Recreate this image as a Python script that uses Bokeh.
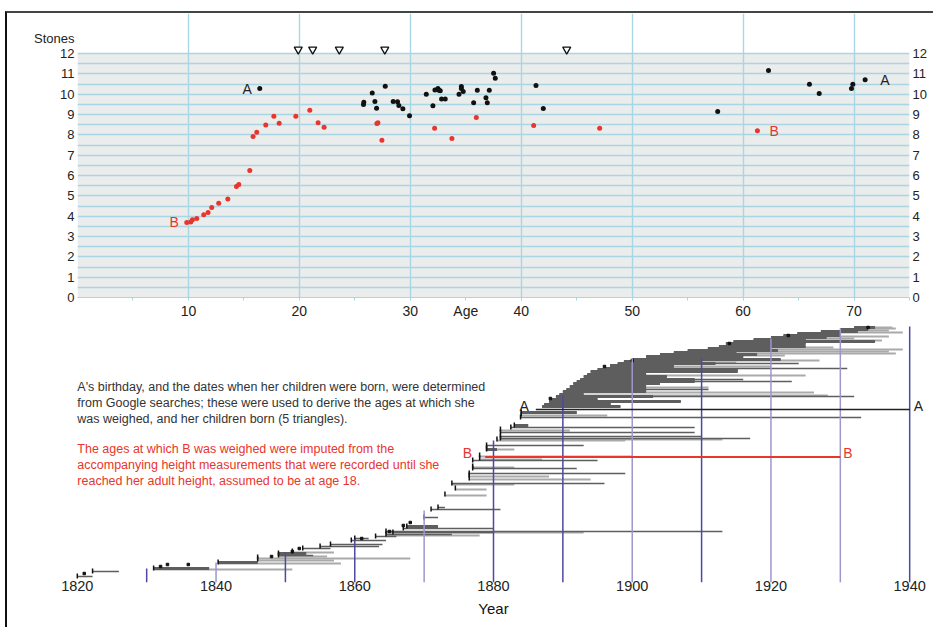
from bokeh.plotting import figure
from bokeh.models import (Range1d, FixedTicker, LinearAxis, Label, ColumnDataSource)
from bokeh.layouts import column
from bokeh.core.properties import value
from bokeh.embed import file_html
from bokeh.resources import INLINE

# ---------------- data: top panel (weight in stones vs age) ----------------
a_age = [16.43, 25.78, 25.81, 26.57, 26.81, 26.96, 27.74, 28.46, 28.85, 28.97, 29.33, 29.93,
         31.44, 32.04, 32.22, 32.49, 32.58, 32.7, 32.82, 33.15, 34.39, 34.6, 34.6, 34.77,
         35.71, 36.04, 36.82, 36.94, 37.12, 37.51, 37.66, 41.33, 41.99, 57.71, 62.29, 65.98,
         66.86, 69.77, 69.89, 71.0]
a_stones = [10.28, 9.49, 9.6, 10.06, 9.64, 9.31, 10.39, 9.64, 9.63, 9.44, 9.28, 8.94,
            10.0, 9.43, 10.21, 10.28, 10.2, 10.17, 9.76, 9.77, 10.0, 10.38, 10.28, 10.13,
            9.58, 10.2, 9.82, 9.58, 10.2, 11.03, 10.79, 10.43, 9.3, 9.15, 11.17, 10.49,
            10.03, 10.28, 10.49, 10.71]
b_age = [9.85, 10.21, 10.36, 10.75, 11.38, 11.77, 12.1, 12.73, 13.55, 14.33, 14.54, 15.53,
         15.83, 16.16, 16.97, 17.7, 18.18, 19.68, 20.94, 21.69, 22.23, 26.99, 27.08, 27.44,
         32.19, 33.75, 35.95, 41.12, 47.07, 61.29]
b_stones = [3.69, 3.72, 3.82, 3.89, 4.07, 4.18, 4.43, 4.64, 4.85, 5.46, 5.56, 6.25,
            7.92, 8.13, 8.49, 8.92, 8.57, 8.92, 9.21, 8.6, 8.38, 8.56, 8.6, 7.74,
            8.33, 7.82, 8.85, 8.46, 8.33, 8.2]
birth_age = [19.9, 21.2, 23.6, 27.7, 44.1]
birth_marker_stones = [12.2] * 5
age_ticks = [10, 20, 30, 40, 50, 60, 70]
age_minor = [5, 15, 25, 45, 55, 65, 75]
age_label_pos = 35          # where the word "Age" sits among the tick labels
stone_ticks = list(range(0, 13))
stone_grid = [i * 0.5 for i in range(0, 25)]
stones_label_pos = 12.72    # where the word "Stones" sits above the left tick labels

# ---------------- data: bottom panel (records by year) ----------------
# level, start year, thick-fill end, thin dark line end, light line end (0 = none)
row_level = [6, 11, 14, 20, 23, 25, 27, 29, 31, 34, 36, 38, 42, 44, 46, 48, 50, 51, 54, 56,
             65, 73, 75, 88, 94, 99, 104, 107, 109, 114, 116, 122, 124, 127, 133, 134, 137,
             143, 144, 146, 150, 153, 155, 157, 165, 168, 170,
             176, 178, 181, 183, 186, 188, 191, 193, 196, 199, 201, 203, 206, 208, 211, 213,
             214, 217, 219, 221, 223, 226, 228, 230, 232, 234, 236, 239, 241, 243, 245, 247,
             249, 251, 253, 255, 256]
row_start = [1820.0, 1822.2, 1831.0, 1840.3, 1846.0, 1846.0, 1849.0, 1849.0, 1851.0, 1852.5,
             1855.0, 1856.5, 1859.5, 1860.0, 1863.0, 1864.5, 1865.5, 1864.5, 1867.0, 1867.5,
             1870.0, 1871.0, 1872.0, 1873.0, 1874.5, 1874.0, 1876.5, 1876.5, 1876.5,
             1877.0, 1877.0, 1877.0, 1878.0, 1878.0, 1879.0, 1879.0, 1879.0,
             1880.5, 1881.0, 1881.0, 1881.0, 1881.0, 1882.5, 1883.0, 1883.9, 1884.0, 1884.0,
             1887.0, 1887.3, 1888.0, 1888.3, 1889.0, 1889.5, 1890.0, 1890.5, 1891.0, 1891.5,
             1892.0, 1892.5, 1893.0, 1893.5, 1894.0, 1895.0, 1895.9, 1896.8, 1897.9, 1898.8,
             1900.0, 1902.0, 1904.0, 1906.0, 1908.0, 1910.9, 1912.5, 1913.5, 1914.6, 1917.5,
             1920.0, 1921.8, 1923.8, 1927.2, 1930.0, 1932.0, 1934.1]
row_fill_end = [0, 0, 1839.0, 1846.0, 0, 0, 0, 1853.0, 0, 0,
                0, 0, 0, 0, 0, 0, 0, 0, 0, 1872.0,
                0, 0, 0, 0, 0, 0, 0, 0, 0,
                0, 0, 0, 0, 0, 1880.5, 0, 0,
                0, 0, 0, 0, 0, 0, 1885.0, 0, 0, 1892.0,
                1898.3, 1896.9, 1907.0, 1895.0, 1903.0, 1893.0, 1902.0, 1902.0, 1902.0, 1904.0,
                1909.0, 1909.0, 1905.0, 1902.0, 1915.2, 1915.2, 1906.0, 1906.0, 1912.0, 1910.0,
                1921.4, 1916.0, 1918.0, 1915.0, 1921.0, 1920.0, 1925.0, 1925.0, 1935.0, 1925.0,
                1928.0, 1930.0, 1930.0, 1932.5, 1934.0, 1935.0, 0]
row_dark_end = [1822.2, 1826.0, 1839.0, 1846.0, 0, 0, 1854.0, 1853.0, 0, 1856.5,
                1863.5, 1864.0, 1864.5, 1862.0, 1866.0, 1874.0, 1880.0, 1913.0, 1880.0, 1872.0,
                1872.0, 1881.0, 1873.0, 0, 0, 1896.0, 0, 0, 1899.0,
                1892.0, 0, 1895.0, 0, 0, 1880.5, 0, 1893.0,
                0, 1917.0, 1910.0, 1909.0, 0, 1909.0, 1885.0, 1933.0, 0, 1892.0,
                1898.3, 1896.9, 1907.0, 1895.0, 1932.0, 1893.0, 1902.0, 1911.0, 1902.0, 1904.0,
                1923.0, 1916.0, 1905.0, 1902.0, 1915.2, 1915.2, 1931.0, 1906.0, 1924.0, 1910.0,
                1921.4, 1916.0, 1918.0, 1915.0, 1921.0, 1920.0, 1925.0, 1925.0, 1935.0, 1925.0,
                1928.0, 1930.0, 1930.0, 1932.5, 1934.0, 1935.0, 0]
row_light_end = [0, 0, 1851.0, 1858.0, 1857.0, 1868.0, 1856.0, 0, 1857.0, 0,
                 0, 0, 0, 0, 0, 1878.0, 0, 1893.0, 0, 0,
                 0, 0, 0, 1879.0, 1879.0, 1883.0, 1894.0, 1888.0, 0,
                 0, 1883.0, 0, 1887.0, 1900.0, 0, 1883.0, 0,
                 1899.0, 1913.0, 0, 0, 1891.0, 0, 0, 0, 1896.4, 0,
                 0, 0, 0, 0, 0, 1928.2, 1926.2, 0, 1911.0, 0,
                 0, 0, 0, 1925.0, 0, 0, 0, 1920.0, 0, 1915.0,
                 1927.0, 0, 1922.0, 1938.0, 1937.0, 1939.0, 1929.0, 0, 0, 1936.0,
                 1932.0, 1937.0, 0, 1939.0, 1937.0, 1938.0, 1937.5]
dot_year = [1821, 1832, 1833, 1836, 1848, 1851, 1852, 1861, 1865, 1867, 1868,
            1888.2, 1896, 1900, 1914, 1922.5, 1934]
dot_level = [9, 16, 18, 18, 26, 31, 34, 44, 51, 57, 60, 184, 216, 222, 239, 247, 255]
decade_year = [1830, 1840, 1850, 1860, 1870, 1880, 1890, 1900, 1910, 1920, 1930, 1940]
decade_top = [14, 20, 30, 43, 72, 142, 187, 224, 225, 244, 254, 256]
decade_color = ["#4d4a9e", "#9c98cf", "#4d4a9e", "#4d4a9e", "#9c98cf", "#4d4a9e",
                "#4d4a9e", "#9c98cf", "#4d4a9e", "#9c98cf", "#9c98cf", "#4d4a9e"]
a_line = dict(start=1886.1, end=1940.0, level=173)
b_line = dict(start=1878.8, end=1930.0, level=125.5)
year_ticks = [1820, 1840, 1860, 1880, 1900, 1920, 1940]

note_black = ["A's birthday, and the dates when her children were born, were determined",
              "from Google searches; these were used to derive the ages at which she",
              "was weighed, and her children born (5 triangles)."]
note_red = ["The ages at which B was weighed were imputed from the",
            "accompanying height measurements that were recorded until she",
            "reached her adult height, assumed to be at age 18."]
note_black_level = [196, 180, 164]
note_red_level = [134, 118, 102]

FONT = "Liberation Sans"
GRID = "#a9d6e4"
RED = "#e8352d"
DARK = "#5e5e5e"
LIGHT = "#aaaaaa"

# ---------------- top figure ----------------
p1 = figure(width=926, height=309, x_range=Range1d(0, 75), y_range=Range1d(0, 13.97),
            min_border_left=70, min_border_right=24, min_border_top=0, min_border_bottom=25,
            output_backend="svg", toolbar_location=None)
p1.frame_align = False
p1.outline_line_color = None
p1.background_fill_color = "white"
p1.quad(left=0, right=75, bottom=0, top=12, fill_color="#ebecec", line_color=None, level="image")

p1.xgrid.ticker = FixedTicker(ticks=age_ticks)
p1.ygrid.ticker = FixedTicker(ticks=stone_grid)
for g in (p1.xgrid, p1.ygrid):
    g.grid_line_color = GRID
    g.grid_line_width = 1.4
    g.grid_line_alpha = 1.0

xa = p1.xaxis[0]
xa.ticker = FixedTicker(ticks=age_ticks + [age_label_pos], minor_ticks=age_minor)
xa.major_label_overrides = {age_label_pos: "Age"}
xa.axis_line_color = GRID
xa.major_tick_line_color = GRID
xa.minor_tick_line_color = GRID
xa.major_tick_in = 0
xa.major_tick_out = 3
xa.minor_tick_in = 0
xa.minor_tick_out = 3
xa.major_label_standoff = 2
xa.major_label_text_font = FONT
xa.major_label_text_font_size = "14px"
xa.major_label_text_color = "#222"

ya = p1.yaxis[0]
ya.ticker = FixedTicker(ticks=stone_ticks + [stones_label_pos])
ya.major_label_overrides = {stones_label_pos: "Stones"}
ry = LinearAxis(ticker=FixedTicker(ticks=stone_ticks))
p1.add_layout(ry, "right")
for ax in (ya, ry):
    ax.axis_line_color = None
    ax.major_tick_line_color = None
    ax.major_tick_in = 0
    ax.major_tick_out = 0
    ax.minor_tick_line_color = None
    ax.major_label_standoff = 3
    ax.major_label_text_font = FONT
    ax.major_label_text_font_size = "13px"
    ax.major_label_text_color = "#222"

p1.scatter(a_age, a_stones, size=5, fill_color="#111111", line_color=None)
p1.scatter(b_age, b_stones, size=5, fill_color=RED, line_color=None)
p1.scatter(birth_age, birth_marker_stones, marker="inverted_triangle", size=8,
           fill_color="white", line_color="#111111", line_width=1.3)

p1.add_layout(Label(x=a_age[0], y=a_stones[0], x_offset=-8, text="A", text_align="right",
                    text_baseline="middle", text_font=FONT, text_font_size="14px",
                    text_color="#222"))
p1.add_layout(Label(x=a_age[-1], y=a_stones[-1], x_offset=15, text="A", text_align="left",
                    text_baseline="middle", text_font=FONT, text_font_size="14px",
                    text_color="#222"))
p1.add_layout(Label(x=b_age[0], y=b_stones[0], x_offset=-8, text="B", text_align="right",
                    text_baseline="middle", text_font=FONT, text_font_size="14px",
                    text_color=RED))
p1.add_layout(Label(x=b_age[-1], y=b_stones[-1], x_offset=12, text="B", text_align="left",
                    text_baseline="middle", text_font=FONT, text_font_size="14px",
                    text_color=RED))

# ---------------- bottom figure ----------------
p2 = figure(width=926, height=305, x_range=Range1d(1817, 1943), y_range=Range1d(0, 258),
            min_border_left=49, min_border_right=3, min_border_top=2, min_border_bottom=45,
            y_axis_location=None, output_backend="svg", toolbar_location=None)
p2.frame_align = False
p2.outline_line_color = None
p2.grid.visible = False

bx = p2.xaxis[0]
bx.ticker = FixedTicker(ticks=year_ticks)
bx.axis_line_color = None
bx.major_tick_line_color = None
bx.minor_tick_line_color = None
bx.major_tick_in = 0
bx.major_tick_out = 0
bx.major_label_standoff = -2
bx.major_label_text_font = FONT
bx.major_label_text_font_size = "14.5px"
bx.major_label_text_color = "#222"
bx.axis_label = "Year"
bx.axis_label_text_font = FONT
bx.axis_label_text_font_style = "normal"
bx.axis_label_text_font_size = "15px"
bx.axis_label_text_color = "#111"
bx.axis_label_standoff = 6

n = len(row_level)
light_idx = [i for i in range(n) if row_light_end[i] > row_start[i]]
dark_idx = [i for i in range(n) if row_dark_end[i] > row_start[i]]
fill_idx = [i for i in range(n) if row_fill_end[i] > row_start[i]]
light_src = ColumnDataSource(dict(x0=[row_start[i] for i in light_idx],
                                  x1=[row_light_end[i] for i in light_idx],
                                  y=[row_level[i] - 1 for i in light_idx]))
dark_src = ColumnDataSource(dict(x0=[row_start[i] for i in dark_idx],
                                 x1=[row_dark_end[i] for i in dark_idx],
                                 y=[row_level[i] for i in dark_idx]))
fill_src = ColumnDataSource(dict(x0=[row_start[i] for i in fill_idx],
                                 x1=[row_fill_end[i] for i in fill_idx],
                                 y=[row_level[i] for i in fill_idx]))
p2.segment(x0="x0", y0="y", x1="x1", y1="y", source=light_src, line_color=LIGHT,
           line_width=2)
p2.segment(x0="x0", y0="y", x1="x1", y1="y", source=dark_src, line_color=DARK,
           line_width=1.3)
p2.segment(x0="x0", y0="y", x1="x1", y1="y", source=fill_src, line_color=DARK,
           line_width=3)

tick_idx = [i for i in range(n) if row_level[i] < 172]
tick_src = ColumnDataSource(dict(x=[row_start[i] for i in tick_idx],
                                 y0=[row_level[i] - 2 for i in tick_idx],
                                 y1=[row_level[i] + 3 for i in tick_idx]))
p2.segment(x0="x", y0="y0", x1="x", y1="y1", source=tick_src, line_color="#111",
           line_width=1.5)
p2.scatter(dot_year, dot_level, size=2.5, color="#111", marker="square")

p2.segment(x0=decade_year, y0=[0] * len(decade_year), x1=decade_year, y1=decade_top,
           line_color=decade_color, line_width=1.5)

p2.segment(x0=[a_line["start"]], y0=[a_line["level"]], x1=[a_line["end"]],
           y1=[a_line["level"]], line_color="#222", line_width=1.3)
p2.segment(x0=[b_line["start"]], y0=[b_line["level"]], x1=[b_line["end"]],
           y1=[b_line["level"]], line_color=RED, line_width=2)

p2.add_layout(Label(x=a_line["start"], y=a_line["level"], x_offset=-7, y_offset=4, text="A",
                    text_align="right", text_baseline="middle", text_font=FONT,
                    text_font_size="14px", text_color="#222"))
p2.add_layout(Label(x=a_line["end"], y=a_line["level"], x_offset=4, y_offset=4, text="A",
                    text_align="left", text_baseline="middle", text_font=FONT,
                    text_font_size="14px", text_color="#222"))
p2.add_layout(Label(x=b_line["start"], y=b_line["level"], x_offset=-13, y_offset=4, text="B",
                    text_align="right", text_baseline="middle", text_font=FONT,
                    text_font_size="14px", text_color=RED))
p2.add_layout(Label(x=b_line["end"], y=b_line["level"], x_offset=3, y_offset=4, text="B",
                    text_align="left", text_baseline="middle", text_font=FONT,
                    text_font_size="14px", text_color=RED))

p2.text(x=[1820] * 3, y=note_black_level, text=note_black, text_align="left",
        text_baseline="middle", text_font=value(FONT), text_font_size="12.5px",
        text_color="#333")
p2.text(x=[1820] * 3, y=note_red_level, text=note_red, text_align="left",
        text_baseline="middle", text_font=value(FONT), text_font_size="12.5px",
        text_color=RED)

layout = column(p1, p2, spacing=0,
                styles={"margin-left": "5px", "margin-top": "11px",
                        "border-left": "2px solid #111", "border-top": "2px solid #444"})

open("out.html", "w").write(file_html(layout, INLINE))
